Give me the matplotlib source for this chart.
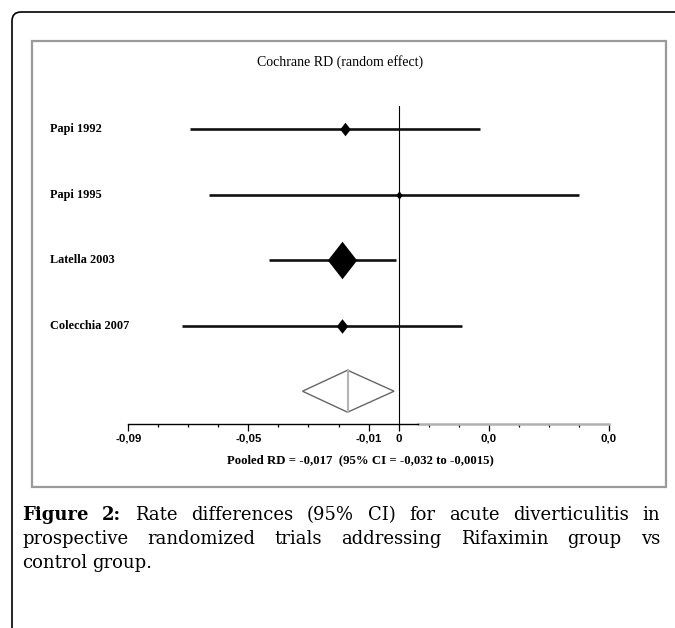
import numpy as np
import matplotlib.pyplot as plt
import matplotlib.transforms as mtransforms
from matplotlib.patches import FancyBboxPatch, Rectangle
from matplotlib.path import Path
from matplotlib.ticker import MultipleLocator

# study data (risk differences and 95% CI)
studies = ['Papi 1992', 'Papi 1995', 'Latella 2003', 'Colecchia 2007']
rd = [-0.018, 0.0, -0.019, -0.019]
ci_lo = [-0.0695, -0.063, -0.043, -0.072]
ci_hi = [0.027, 0.060, -0.001, 0.021]
weight = [9.8, 3.7, 75.1, 11.4]

pooled_rd = -0.017
pooled_lo = -0.032
pooled_hi = -0.0015

tick_vals = [-0.09, -0.05, -0.01, 0.0, 0.03, 0.07]
tick_labels = ['-0,09', '-0,05', '-0,01', '0', '0,0', '0,0']

title = 'Cochrane RD (random effect)'
pooled_txt = 'Pooled RD = -0,017  (95% CI = -0,032 to -0,0015)'
caption = [
    [('Figure', True), ('2:', True), ('Rate', False), ('differences', False), ('(95%', False),
     ('CI)', False), ('for', False), ('acute', False), ('diverticulitis', False), ('in', False)],
    [('prospective', False), ('randomized', False), ('trials', False), ('addressing', False),
     ('Rifaximin', False), ('group', False), ('vs', False)],
    [('control', False), ('group.', False)],
]

W, H = 675, 628
fig = plt.figure(figsize=(W / 100, H / 100), dpi=100)
serif = 'Liberation Serif'
sans = 'Liberation Sans'
cap_font = 'DejaVu Serif'


def px_box(l, t, r, b):
    return [l / W, 1 - b / H, (r - l) / W, (b - t) / H]


# frames
pix = mtransforms.IdentityTransform()
outer = FancyBboxPatch((12, -60), 720, H - 12 + 60, boxstyle='round,pad=0,rounding_size=9',
                       transform=pix, facecolor='none', edgecolor='black', lw=1.2)
fig.add_artist(outer)
inner = Rectangle((32, H - 487), 634, 446, transform=pix, facecolor='none',
                  edgecolor='#9a9a9a', lw=1.6)
fig.add_artist(inner)

ax = fig.add_axes(px_box(128.3, 106, 608.8, 424))
ax.patch.set_alpha(0)
n = len(studies)
ys = np.arange(n, 0, -1)

diamond = Path([(0, 1), (0.78, 0), (0, -1), (-0.78, 0), (0, 1)],
               [Path.MOVETO, Path.LINETO, Path.LINETO, Path.LINETO, Path.CLOSEPOLY])

ax.axvline(0, color='black', lw=0.8)
ax.hlines(ys, ci_lo, ci_hi, color='#111111', lw=1.9)
for y, x, w in zip(ys, rd, weight):
    ax.plot(x, y, marker=diamond, ms=27 * np.sqrt(w / 75.1), color='black', mec='black', mew=0)

# pooled estimate
ax.fill([pooled_lo, pooled_rd, pooled_hi, pooled_rd], [0, 0.32, 0, -0.32],
        facecolor='white', edgecolor='#666666', lw=1.0, zorder=3)
ax.plot([pooled_rd, pooled_rd], [-0.32, 0.32], color='#b4b4b4', lw=1.5, zorder=4)

ax.set_xlim(-0.09, 0.07)
ax.set_ylim(-0.5, 4.35)
for s in ['left', 'top', 'right']:
    ax.spines[s].set_visible(False)
ax.spines['bottom'].set_bounds(-0.09, 0.0065)
ax.spines['bottom'].set_linewidth(1.0)
ax.plot([0.0065, 0.07], [-0.5, -0.5], color='#b0b0b0', lw=1.8, clip_on=False)
ax.set_yticks([])
ax.set_xticks(tick_vals)
ax.set_xticklabels(tick_labels, fontfamily=sans, fontweight='bold', fontsize=8.2)
ax.xaxis.set_minor_locator(MultipleLocator(0.01))
ax.tick_params(axis='x', which='major', length=5, width=0.9, pad=2, direction='out')
ax.tick_params(axis='x', which='minor', length=2.5, width=0.9, direction='out')

lab_tr = mtransforms.blended_transform_factory(fig.transFigure, ax.transData)
for y, name in zip(ys, studies):
    ax.text(50 / W, y, name, transform=lab_tr, ha='left', va='center',
            fontfamily=serif, fontweight='bold', fontsize=8.8)

fig.text(340 / W, 1 - 62 / H, title, ha='center', va='center', fontfamily=serif, fontsize=10)
fig.text(360 / W, 1 - 460 / H, pooled_txt, ha='center', va='center', fontfamily=serif,
         fontweight='bold', fontsize=9.2)

# justified caption
renderer = fig.canvas.get_renderer()
x0, x1 = 22, 660
baselines = [520, 544, 568]
for li, (line, base) in enumerate(zip(caption, baselines)):
    texts = []
    for word, bold in line:
        t = fig.text(0, 1 - base / H, word, ha='left', va='baseline', fontfamily=cap_font,
                     fontsize=13, fontweight='bold' if bold else 'normal')
        texts.append(t)
    widths = [t.get_window_extent(renderer).width for t in texts]
    if li < len(caption) - 1:
        gap = (x1 - x0 - sum(widths)) / (len(texts) - 1)
    else:
        gap = 5
    xp = x0
    for t, w in zip(texts, widths):
        t.set_x(xp / W)
        xp += w + gap

fig.savefig('out.png', dpi=100)
